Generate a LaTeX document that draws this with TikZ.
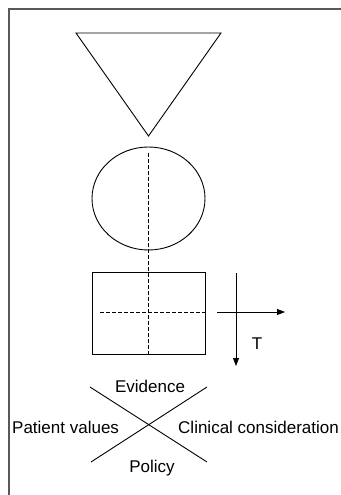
\documentclass[tikz,border=0pt]{standalone}
\usepackage{fontspec}
\setmainfont{Liberation Sans}
\usetikzlibrary{arrows.meta,shapes.geometric}
\begin{document}
\begin{tikzpicture}[x=1pt,y=-1pt,
  shape line/.style={draw=black, line width=0.9pt},
  guide/.style={draw=black, line width=0.9pt, dash pattern=on 3.5pt off 2.5pt},
  axis/.style={draw=black, line width=0.9pt, -{Triangle[length=8pt,width=6pt]}},
  lbl/.style={font=\fontsize{17}{20}\selectfont, inner sep=0pt}]
\useasboundingbox (0,0) rectangle (340,495);
\fill[white] (0,0) rectangle (340,495);
% frame
\draw[black!65, line width=1.6pt] (9,520) -- (9,9) -- (360,9);
% triangle
\coordinate (tl) at (76,33);
\coordinate (tr) at (221,33);
\coordinate (tb) at (148.5,136);
\draw[shape line] (tl) -- (tr) -- (tb) -- cycle;
% ellipse
\node[shape line, ellipse, minimum width=113pt, minimum height=103pt, inner sep=0pt] (ell) at (148.5,198.5) {};
% rectangle
\node[shape line, rectangle, minimum width=113pt, minimum height=82pt, inner sep=0pt] (box) at (148.5,313) {};
% dashed guides
\coordinate (vtop) at (148.5,153);
\coordinate (vbot) at (148.5,354);
\draw[guide] (vtop) -- (vbot);
\coordinate (hl) at (100,312);
\coordinate (hr) at (205,312);
\draw[guide] (hl) -- (hr);
% arrows
\coordinate (ta) at (236,273);
\coordinate (tb2) at (236,366);
\draw[axis] (ta) -- (tb2);
\coordinate (la) at (217,312);
\coordinate (lb) at (285,312);
\draw[axis] (la) -- (lb);
\node[lbl, anchor=base] (T) at (257,349) {T};
% cross
\coordinate (c1) at (90,387);
\coordinate (c2) at (207,462);
\coordinate (c3) at (207,387);
\coordinate (c4) at (91,462);
\draw[shape line] (c1) -- (c2);
\draw[shape line] (c3) -- (c4);
\node[lbl, anchor=base] (ev) at (150,392.5) {Evidence};
\node[lbl, anchor=base west] (pv) at (12,433) {Patient values};
\node[lbl, anchor=base west] (cc) at (178,433) {Clinical consideration};
\node[lbl, anchor=base] (po) at (152,472) {Policy};
\end{tikzpicture}
\end{document}
